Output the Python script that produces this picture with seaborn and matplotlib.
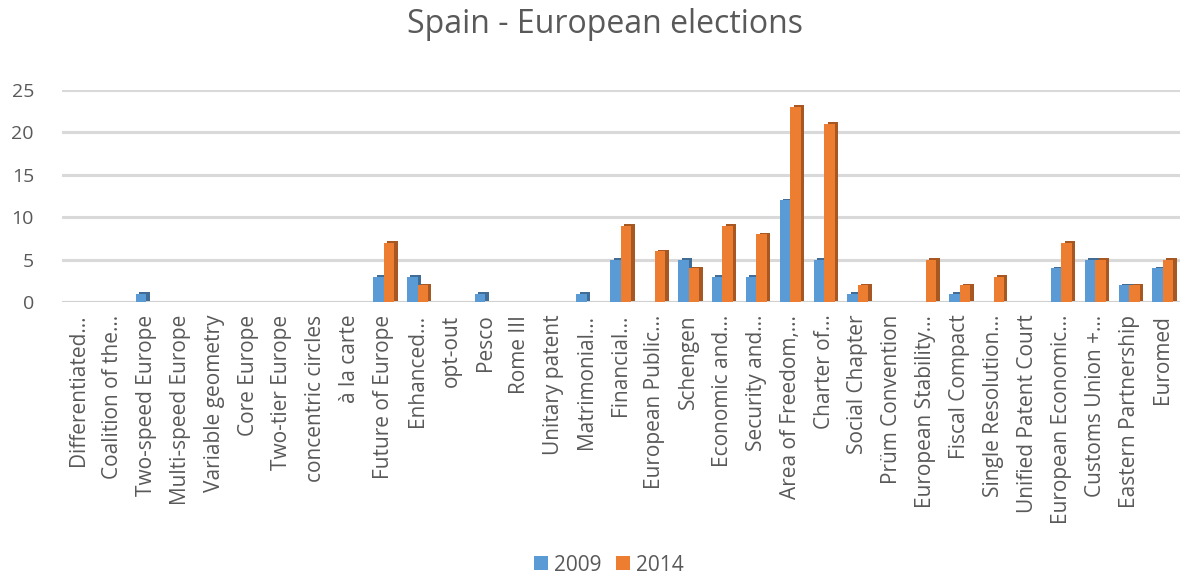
import matplotlib
matplotlib.use("Agg")
import matplotlib.pyplot as plt
import matplotlib.patheffects as pe
from matplotlib.patches import Patch
import pandas as pd
import seaborn as sns

categories = [
    "Differentiated…", "Coalition of the…", "Two-speed Europe", "Multi-speed Europe",
    "Variable geometry", "Core Europe", "Two-tier Europe", "concentric circles",
    "à la carte", "Future of Europe", "Enhanced…", "opt-out", "Pesco", "Rome III",
    "Unitary patent", "Matrimonial…", "Financial…", "European Public…", "Schengen",
    "Economic and…", "Security and…", "Area of Freedom,…", "Charter of…",
    "Social Chapter", "Prüm Convention", "European Stability…", "Fiscal Compact",
    "Single Resolution…", "Unified Patent Court", "European Economic…",
    "Customs Union +…", "Eastern Partnership", "Euromed",
]
values_2009 = [0, 0, 1, 0, 0, 0, 0, 0, 0, 3, 3, 0, 1, 0, 0, 1, 5, 0, 5, 3, 3, 12, 5,
               1, 0, 0, 1, 0, 0, 4, 5, 2, 4]
values_2014 = [0, 0, 0, 0, 0, 0, 0, 0, 0, 7, 2, 0, 0, 0, 0, 0, 9, 6, 4, 9, 8, 23, 21,
               2, 0, 5, 2, 3, 0, 7, 5, 2, 5]
years = ["2009", "2014"]
colors = {"2009": "#5B9BD5", "2014": "#ED7D31"}
yticks = [0, 5, 10, 15, 20, 25]

df = pd.DataFrame({
    "topic": categories * 2,
    "year": [years[0]] * len(categories) + [years[1]] * len(categories),
    "count": values_2009 + values_2014,
})

sns.set_theme(style="white")
plt.rcParams["font.family"] = ["Open Sans", "DejaVu Sans"]
text_color = "#595959"

fig = plt.figure(figsize=(11.87, 5.79), dpi=100)
ax = fig.add_axes([0.052, 0.478, 0.942, 0.367])

sns.barplot(data=df, x="topic", y="count", hue="year", palette=colors,
            saturation=1, width=0.62, gap=0.0, linewidth=0, ax=ax,
            legend=False, zorder=3)

# darker side face gives each column some depth
for patch in ax.patches:
    face = patch.get_facecolor()
    dark = tuple(c * 0.7 for c in face[:3])
    patch.set_path_effects([
        pe.SimplePatchShadow(offset=(2.5, 1.2), shadow_rgbFace=dark, alpha=1.0),
        pe.Normal(),
    ])

ax.set_ylim(0, 25)
ax.set_xlim(-0.5, len(categories) - 0.5)
ax.set_yticks(yticks)
ax.yaxis.grid(True, color="#d9d9d9", linewidth=2.2, zorder=0)
ax.set_axisbelow(True)
for s in ax.spines.values():
    s.set_visible(False)
ax.axhline(0, color="#d0d0d0", linewidth=2.2, zorder=1)

ax.tick_params(axis="y", labelsize=14, colors=text_color, length=0, pad=20)
ax.tick_params(axis="x", labelsize=15, colors=text_color, length=0, pad=9)
ax.set_xticks(range(len(categories)))
ax.set_xticklabels(categories, rotation=90, ha="center", va="top")
ax.set_xlabel("")
ax.set_ylabel("")

fig.text(0.51, 0.958, "Spain - European elections", ha="center", va="center",
         fontsize=23, color=text_color)

handles = [Patch(facecolor=colors[y], edgecolor="none", label=y) for y in years]
fig.legend(handles=handles, loc="center", bbox_to_anchor=(0.513, 0.024), ncol=2,
           frameon=False, fontsize=15, labelcolor=text_color,
           handlelength=0.65, handleheight=0.65, handletextpad=0.3, columnspacing=0.7)

fig.savefig("out.png", dpi=100)
